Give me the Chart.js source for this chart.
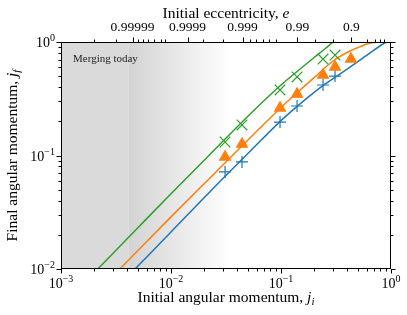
<!DOCTYPE html>
<html>
<head>
<meta charset="utf-8">
<script src="https://cdn.jsdelivr.net/npm/chart.js@4.4.1/dist/chart.umd.min.js"></script>
<style>
  html, body { margin: 0; padding: 0; background: #fff; }
  #wrap { width: 407px; height: 315px; }
</style>
</head>
<body>
<div id="wrap"><canvas id="momentumChart" width="407" height="315"></canvas></div>
<script>
// Courbes (j_i -> j_f)
const greenJi = [0.00216, 0.005, 0.01, 0.0221, 0.05, 0.1, 0.149, 0.2, 0.25, 0.297];
const greenJf = [0.01, 0.0231, 0.046, 0.1, 0.222, 0.418, 0.578, 0.73, 0.867, 1.0];
const orangeJi = [0.00343, 0.01, 0.0226, 0.05, 0.1, 0.149, 0.2, 0.297, 0.424, 0.52, 0.605, 0.7, 0.85];
const orangeJf = [0.01, 0.0288, 0.0634, 0.137, 0.265, 0.378, 0.485, 0.68, 0.833, 0.905, 0.96, 0.99, 1.0];
const blueJi = [0.00471, 0.01, 0.0226, 0.05, 0.1, 0.149, 0.2, 0.251, 0.316, 0.424, 0.605, 0.845, 0.92];
const blueJf = [0.01, 0.0212, 0.048, 0.104, 0.203, 0.285, 0.36, 0.425, 0.495, 0.60, 0.765, 0.96, 1.0];

// Points de simulation (marqueurs)
const markerJi = [0.031, 0.0442, 0.098, 0.140, 0.241, 0.31, 0.4325];
const greenMarkJf = [0.1315, 0.186, 0.378, 0.492, 0.708, 0.768];
const orangeMarkJf = [0.097, 0.126, 0.262, 0.348, 0.512, 0.602, 0.708];
const blueMarkJf = [0.0716, 0.0877, 0.197, 0.273, 0.418, 0.501];

// Zone grisée "Merging today"
const mergeLimitJ = 0.0041;
const fadeEndJ = 0.035;

// Graduations
const xMajorTicks = [0.001, 0.01, 0.1, 1];
const yMajorTicks = [0.01, 0.1, 1];
const minorMultipliers = [2, 3, 4, 5, 6, 7, 8, 9];
const eccTicks = ['0.99999', '0.9999', '0.999', '0.99', '0.9'];
const eccMinorTicks = [0.999998, 0.999995, 0.9999874, 0.9999845, 0.999981, 0.9999755, 0.999967, 0.999961,
    0.99981, 0.99956, 0.99864, 0.99825, 0.99767, 0.99699, 0.99596, 0.979, 0.955, 0.8, 0.7, 0.6, 0.5];

const SERIF = '"Liberation Serif", "DejaVu Serif", serif';
const BLUE = '#1f77b4', ORANGE = '#ff7f0e', GREEN = '#2ca02c';

function toPoints(xs, ys) {
    return ys.map((y, i) => ({ x: xs[i], y: y }));
}

// j = sqrt(1 - e^2)
function eccToJ(e) {
    return Math.sqrt(1 - e * e);
}

function minorTicks(majors) {
    const out = [];
    majors.slice(0, -1).forEach(m => minorMultipliers.forEach(k => out.push(m * k)));
    return out;
}

// texte composé (italique, indices, exposants)
function richWidth(ctx, parts) {
    let w = 0;
    parts.forEach(p => { ctx.font = p.font; w += ctx.measureText(p.text).width; });
    return w;
}
function drawRich(ctx, parts, x, y, align) {
    const w = richWidth(ctx, parts);
    let cx = align === 'center' ? x - w / 2 : align === 'right' ? x - w : x;
    ctx.textAlign = 'left';
    ctx.textBaseline = 'alphabetic';
    parts.forEach(p => {
        ctx.font = p.font;
        ctx.fillText(p.text, cx, y + (p.dy || 0));
        cx += ctx.measureText(p.text).width;
    });
}
function powParts(v) {
    const exp = Math.round(Math.log10(v));
    const txt = exp < 0 ? '\u2212' + (-exp) : String(exp);
    return [
        { text: '10', font: '14px ' + SERIF },
        { text: txt, font: '10px ' + SERIF, dy: -6 }
    ];
}

const figurePlugin = {
    id: 'figurePlugin',
    beforeDatasetsDraw(chart) {
        const ctx = chart.ctx;
        const a = chart.chartArea;
        const xs = chart.scales.x;
        const xMerge = xs.getPixelForValue(mergeLimitJ);
        const xFade = xs.getPixelForValue(fadeEndJ);
        ctx.save();
        ctx.fillStyle = 'rgb(218,218,218)';
        ctx.fillRect(a.left, a.top, xMerge - a.left, a.bottom - a.top);
        const grad = ctx.createLinearGradient(xMerge, 0, xFade, 0);
        grad.addColorStop(0, 'rgb(211,211,211)');
        grad.addColorStop(1, 'rgb(255,255,255)');
        ctx.fillStyle = grad;
        ctx.fillRect(xMerge, a.top, xFade - xMerge, a.bottom - a.top);
        ctx.fillStyle = '#222';
        ctx.font = '11px ' + SERIF;
        ctx.textAlign = 'left';
        ctx.textBaseline = 'alphabetic';
        ctx.fillText('Merging today', a.left + 12, a.top + 20);
        ctx.restore();
    },
    afterDraw(chart) {
        const ctx = chart.ctx;
        const a = chart.chartArea;
        const xs = chart.scales.x, ys = chart.scales.y;
        ctx.save();
        ctx.strokeStyle = '#000';
        ctx.fillStyle = '#000';
        ctx.lineWidth = 1;
        ctx.strokeRect(a.left + 0.5, a.top + 0.5, a.right - a.left - 1, a.bottom - a.top - 1);

        const tick = (x1, y1, x2, y2) => {
            ctx.beginPath();
            ctx.moveTo(x1, y1);
            ctx.lineTo(x2, y2);
            ctx.stroke();
        };
        const px = v => Math.round(xs.getPixelForValue(v)) + 0.5;
        const py = v => Math.round(ys.getPixelForValue(v)) + 0.5;
        const bottom = a.bottom, top = a.top, left = a.left, right = a.right;

        // axe du bas (j)
        xMajorTicks.forEach(v => tick(px(v), bottom, px(v), bottom + 4.5));
        minorTicks(xMajorTicks).forEach(v => tick(px(v), bottom, px(v), bottom + 2.5));
        // axes gauche et droit
        yMajorTicks.forEach(v => {
            tick(left, py(v), left - 4.5, py(v));
            tick(right, py(v), right + 4.5, py(v));
        });
        minorTicks(yMajorTicks).forEach(v => {
            tick(left, py(v), left - 2.5, py(v));
            tick(right, py(v), right + 2.5, py(v));
        });
        // axe du haut : excentricité
        eccTicks.forEach(t => tick(px(eccToJ(parseFloat(t))), top, px(eccToJ(parseFloat(t))), top - 4.5));
        eccMinorTicks.forEach(e => tick(px(eccToJ(e)), top, px(eccToJ(e)), top - 2.5));

        // étiquettes
        xMajorTicks.forEach(v => drawRich(ctx, powParts(v), xs.getPixelForValue(v), 288, 'center'));
        yMajorTicks.forEach(v => drawRich(ctx, powParts(v), 55, ys.getPixelForValue(v) + 5, 'right'));
        ctx.font = '13.5px ' + SERIF;
        ctx.textAlign = 'center';
        ctx.textBaseline = 'alphabetic';
        eccTicks.forEach(t => ctx.fillText(t, xs.getPixelForValue(eccToJ(parseFloat(t))), 31));

        // titres des axes
        const cx = (left + right) / 2;
        const cy = (top + bottom) / 2;
        drawRich(ctx, [
            { text: 'Initial angular momentum, ', font: '15.5px ' + SERIF },
            { text: 'j', font: 'italic 15.5px ' + SERIF },
            { text: 'i', font: 'italic 11px ' + SERIF, dy: 3 }
        ], cx, 302, 'center');
        drawRich(ctx, [
            { text: 'Initial eccentricity, ', font: '15.5px ' + SERIF },
            { text: 'e', font: 'italic 15.5px ' + SERIF }
        ], cx, 18, 'center');
        ctx.translate(17, cy);
        ctx.rotate(-Math.PI / 2);
        drawRich(ctx, [
            { text: 'Final angular momentum, ', font: '15.5px ' + SERIF },
            { text: 'j', font: 'italic 15.5px ' + SERIF },
            { text: 'f', font: 'italic 11px ' + SERIF, dy: 3 }
        ], 0, 0, 'center');
        ctx.restore();
    }
};

function logAxis(position, size, min, max) {
    return {
        type: 'logarithmic',
        position: position,
        min: min,
        max: max,
        grid: { display: false },
        border: { display: false },
        ticks: { display: false },
        afterFit(scale) {
            if (position === 'top' || position === 'bottom') scale.height = size;
            else scale.width = size;
        }
    };
}

const lineDataset = (label, xs, ys, color) => ({
    label: label,
    data: toPoints(xs, ys),
    showLine: true,
    borderColor: color,
    borderWidth: 1.5,
    pointRadius: 0,
    cubicInterpolationMode: 'monotone',
    fill: false,
    order: 2
});
const markerDataset = (label, ys, color, style, radius) => ({
    label: label,
    data: toPoints(markerJi, ys),
    showLine: false,
    pointStyle: style,
    pointRadius: radius,
    pointBorderWidth: 1.2,
    borderColor: color,
    backgroundColor: color,
    order: 1
});

new Chart(document.getElementById('momentumChart').getContext('2d'), {
    type: 'scatter',
    data: {
        datasets: [
            lineDataset('green', greenJi, greenJf, GREEN),
            lineDataset('orange', orangeJi, orangeJf, ORANGE),
            lineDataset('blue', blueJi, blueJf, BLUE),
            markerDataset('green pts', greenMarkJf, GREEN, 'crossRot', 7.5),
            markerDataset('orange pts', orangeMarkJf, ORANGE, 'triangle', 6.2),
            markerDataset('blue pts', blueMarkJf, BLUE, 'cross', 6)
        ]
    },
    options: {
        responsive: false,
        animation: false,
        devicePixelRatio: 1,
        layout: { padding: 0 },
        plugins: { legend: { display: false }, tooltip: { enabled: false } },
        scales: {
            x: logAxis('bottom', 46, 0.001, 1),
            x2: logAxis('top', 42, 0.001, 1),
            y: logAxis('left', 61, 0.01, 1),
            y2: logAxis('right', 16, 0.01, 1)
        }
    },
    plugins: [figurePlugin]
});
</script>
</body>
</html>
